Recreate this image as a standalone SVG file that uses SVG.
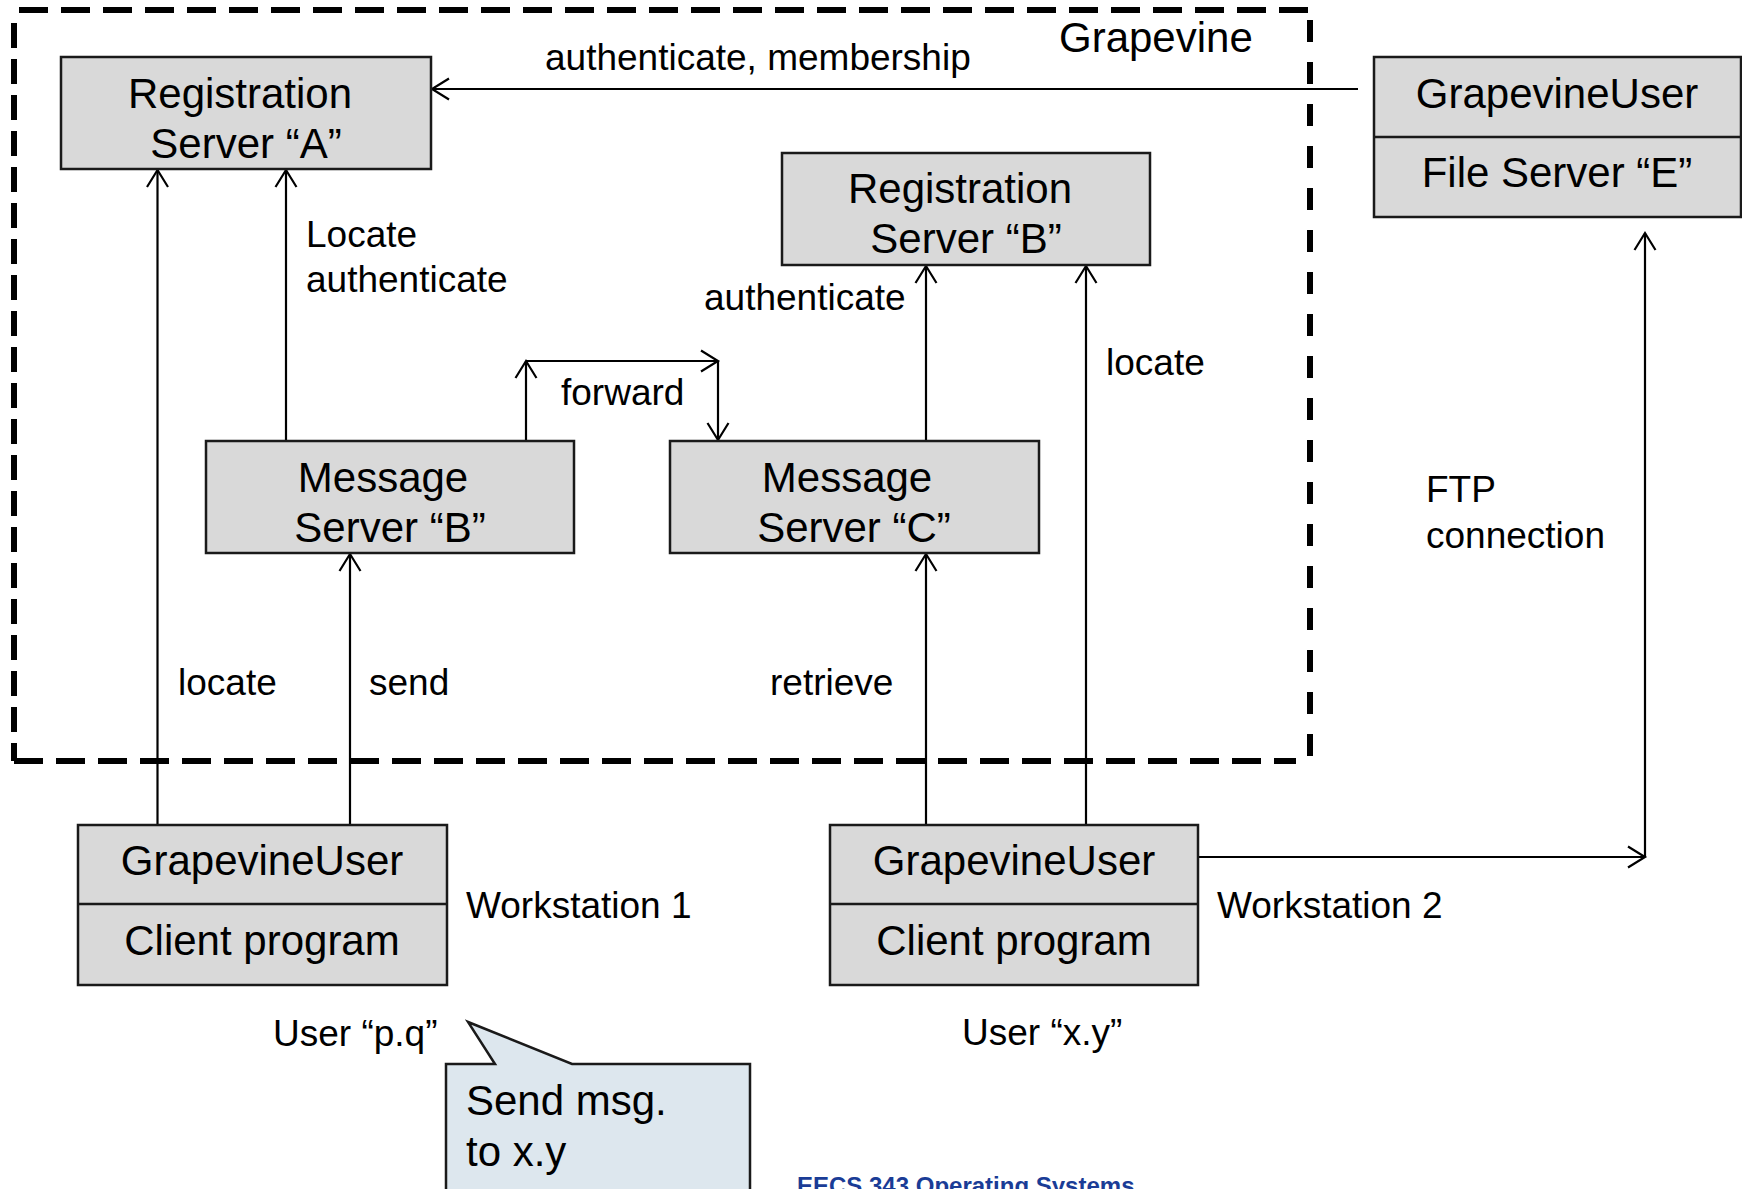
<svg xmlns="http://www.w3.org/2000/svg" width="1742" height="1189" viewBox="0 0 1742 1189">
<style>
.box{fill:#d9d9d9;stroke:#1a1a1a;stroke-width:2.5}
.t{font-family:"Liberation Sans",Arial,sans-serif;font-size:42px;fill:#000}
.c{text-anchor:middle}
.l{font-family:"Liberation Sans",Arial,sans-serif;font-size:37px;fill:#000}
.conn{stroke:#000;stroke-width:2.2;fill:none}
.dash{stroke:#000;stroke-width:6;fill:none}
</style>
<defs>
<marker id="arr" markerUnits="userSpaceOnUse" markerWidth="40" markerHeight="40" viewBox="-20 -20 40 40" refX="0" refY="0" orient="auto">
<path d="M -17 -10.5 L 0 0 L -17 10.5" fill="none" stroke="#000" stroke-width="2.2"/>
</marker>
</defs>
<rect width="1742" height="1189" fill="#fff"/>

<g id="grapevine-boundary">
<line class="dash" x1="19" y1="10" x2="1310" y2="10" stroke-dasharray="29 13"/>
<line class="dash" x1="14" y1="23" x2="14" y2="761" stroke-dasharray="25 11"/>
<line class="dash" x1="1310" y1="20" x2="1310" y2="757" stroke-dasharray="22 20"/>
<line class="dash" x1="14" y1="761" x2="1296" y2="761" stroke-dasharray="29 13"/>
<text class="t" x="1059" y="52">Grapevine</text>
</g>

<g id="connectors">
<line class="conn" x1="1358" y1="89" x2="432" y2="89" marker-end="url(#arr)"/>
<line class="conn" x1="157.5" y1="825" x2="157.5" y2="170" marker-end="url(#arr)"/>
<line class="conn" x1="286" y1="441" x2="286" y2="170" marker-end="url(#arr)"/>
<line class="conn" x1="350" y1="825" x2="350" y2="554" marker-end="url(#arr)"/>
<line class="conn" x1="526" y1="441" x2="526" y2="361" marker-end="url(#arr)"/>
<line class="conn" x1="526" y1="361" x2="718" y2="361" marker-end="url(#arr)"/>
<line class="conn" x1="718" y1="361" x2="718" y2="440" marker-end="url(#arr)"/>
<line class="conn" x1="926" y1="441" x2="926" y2="266" marker-end="url(#arr)"/>
<line class="conn" x1="1086" y1="825" x2="1086" y2="266" marker-end="url(#arr)"/>
<line class="conn" x1="926" y1="825" x2="926" y2="554" marker-end="url(#arr)"/>
<line class="conn" x1="1198" y1="857" x2="1645" y2="857" marker-end="url(#arr)"/>
<line class="conn" x1="1645" y1="857" x2="1645" y2="233" marker-end="url(#arr)"/>
<text class="l" x="545" y="70">authenticate, membership</text>
<text class="l" x="306" y="247">Locate</text>
<text class="l" x="306" y="292">authenticate</text>
<text class="l" x="704" y="310">authenticate</text>
<text class="l" x="1106" y="375">locate</text>
<text class="l" x="561" y="405">forward</text>
<text class="l" x="1426" y="502">FTP</text>
<text class="l" x="1426" y="548">connection</text>
<text class="l" x="178" y="695">locate</text>
<text class="l" x="369" y="695">send</text>
<text class="l" x="770" y="695">retrieve</text>
</g>

<g id="reg-server-a">
<rect class="box" x="61" y="57" width="370" height="112"/>
<text class="t c" x="240" y="108">Registration</text>
<text class="t c" x="246" y="158">Server “A”</text>
</g>

<g id="reg-server-b">
<rect class="box" x="782" y="153" width="368" height="112"/>
<text class="t c" x="960" y="203">Registration</text>
<text class="t c" x="966" y="253">Server “B”</text>
</g>

<g id="file-server-e">
<rect class="box" x="1374" y="57" width="367" height="160"/>
<line x1="1374" y1="137" x2="1741" y2="137" stroke="#1a1a1a" stroke-width="2.5"/>
<text class="t c" x="1557" y="108">GrapevineUser</text>
<text class="t c" x="1557" y="187">File Server “E”</text>
</g>

<g id="msg-server-b">
<rect class="box" x="206" y="441" width="368" height="112"/>
<text class="t c" x="383" y="492">Message</text>
<text class="t c" x="390" y="542">Server “B”</text>
</g>

<g id="msg-server-c">
<rect class="box" x="670" y="441" width="369" height="112"/>
<text class="t c" x="847" y="492">Message</text>
<text class="t c" x="854" y="542">Server “C”</text>
</g>

<g id="workstation-1">
<rect class="box" x="78" y="825" width="369" height="160"/>
<line x1="78" y1="904" x2="447" y2="904" stroke="#1a1a1a" stroke-width="2.5"/>
<text class="t c" x="262" y="875">GrapevineUser</text>
<text class="t c" x="262" y="955">Client program</text>
<text class="l" x="466" y="918">Workstation 1</text>
<text class="l" x="273" y="1046">User “p.q”</text>
</g>

<g id="workstation-2">
<rect class="box" x="830" y="825" width="368" height="160"/>
<line x1="830" y1="904" x2="1198" y2="904" stroke="#1a1a1a" stroke-width="2.5"/>
<text class="t c" x="1014" y="875">GrapevineUser</text>
<text class="t c" x="1014" y="955">Client program</text>
<text class="l" x="1217" y="918">Workstation 2</text>
<text class="l" x="962" y="1045">User “x.y”</text>
</g>

<g id="callout">
<path d="M 446 1064 L 495 1064 L 468 1022 L 572 1064 L 750 1064 L 750 1200 L 446 1200 Z" fill="#dde7ee" stroke="#1a1a1a" stroke-width="2.5" stroke-linejoin="miter"/>
<text class="t" x="466" y="1115">Send msg.</text>
<text class="t" x="466" y="1166">to x.y</text>
</g>

<text x="797" y="1194" font-family="Liberation Sans, Arial, sans-serif" font-size="24" font-weight="bold" fill="#1a3c96">EECS 343 Operating Systems</text>
</svg>
